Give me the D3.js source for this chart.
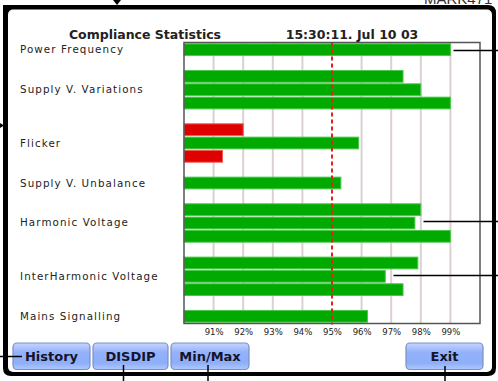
<!DOCTYPE html>
<html>
<head>
<meta charset="utf-8">
<script src="https://cdn.jsdelivr.net/npm/d3@7"></script>
<style>
  html, body { margin: 0; padding: 0; background: #fff; }
  svg { display: block; }
</style>
</head>
<body>
<svg id="chart" width="498" height="381"></svg>
<script>
// Parameter groups and their per-phase compliance percentages
const groups = ["Power Frequency", "Supply V. Variations", "Flicker", "Supply V. Unbalance",
                "Harmonic Voltage", "InterHarmonic Voltage", "Mains Signalling"];
const powerFrequency = [99.0];
const supplyVariations = [97.4, 98.0, 99.0];
const flicker = [92.0, 95.9, 91.3];
const supplyUnbalance = [95.3];
const harmonicVoltage = [98.0, 97.8, 99.0];
const interHarmonicVoltage = [97.9, 96.8, 97.4];
const mainsSignalling = [96.2];
const groupValues = [powerFrequency, supplyVariations, flicker, supplyUnbalance,
                     harmonicVoltage, interHarmonicVoltage, mainsSignalling];
const complianceLimit = 95;
const tickValues = [91, 92, 93, 94, 95, 96, 97, 98, 99];
const title = "Compliance Statistics";
const timestamp = "15:30:11. Jul 10 03";
const buttons = ["History", "DISDIP", "Min/Max", "Exit"];

const svg = d3.select("#chart");

// ---- device frame ----
svg.append("path")
  .attr("d", "M3,5 H488 Q496,5 496,13 V368 Q496,376 488,376 H11 Q3,376 3,368 Z")
  .attr("fill", "#000");
svg.append("rect").attr("x", 8).attr("y", 9.5).attr("width", 484).attr("height", 362.5)
  .attr("rx", 5).attr("fill", "#fff");

svg.append("text").attr("x", 424).attr("y", 4)
  .attr("font-family", "Liberation Sans, Arial, sans-serif").attr("font-size", 15)
  .attr("fill", "#333").text("MARK471");

// ---- slots: one row per bar, a blank row between groups ----
const rows = [];
let slot = 0;
const labelRows = [];
groupValues.forEach((vals, gi) => {
  const start = slot;
  vals.forEach((v, i) => { rows.push({ group: gi, i, value: v, slot: slot }); slot++; });
  labelRows.push({ name: groups[gi], from: start, to: slot - 1 });
  if (gi < groupValues.length - 1) slot++;
});
const nSlots = slot;

const x = d3.scaleLinear().domain([90, 100]).range([184, 480]);
const y = d3.scaleBand().domain(d3.range(nSlots)).range([42.5, 323.5])
  .paddingInner(0.12).paddingOuter(0.1);
const [y0, y1] = y.range();

const plot = svg.append("g");

// gridlines
plot.selectAll("line.grid").data(tickValues.filter(t => t !== complianceLimit)).join("line")
  .attr("class", "grid")
  .attr("x1", d => x(d)).attr("x2", d => x(d))
  .attr("y1", y0).attr("y2", y1)
  .attr("stroke", "#dcd0d0").attr("stroke-width", 2);

// bars
plot.selectAll("rect.bar").data(rows).join("rect")
  .attr("class", "bar")
  .attr("x", x(90))
  .attr("y", d => y(d.slot))
  .attr("width", d => x(d.value) - x(90))
  .attr("height", y.bandwidth())
  .attr("fill", d => d.value >= complianceLimit ? "#00aa00" : "#e00000")
  .attr("stroke", d => d.value >= complianceLimit ? "#4cc84c" : "#f05a5a")
  .attr("stroke-width", 1);

// compliance limit
plot.append("line")
  .attr("x1", x(complianceLimit)).attr("x2", x(complianceLimit))
  .attr("y1", y0).attr("y2", y1 + 1)
  .attr("stroke", "#e8201c").attr("stroke-width", 2)
  .attr("stroke-dasharray", "4,3");

// plot border
plot.append("rect")
  .attr("x", x(90)).attr("y", y0)
  .attr("width", x(100) - x(90)).attr("height", y1 - y0)
  .attr("fill", "none").attr("stroke", "#555").attr("stroke-width", 1.5);

// x axis labels
const xAxis = d3.axisBottom(x).tickValues(tickValues).tickSize(0).tickFormat(d => d + "%");
const ax = svg.append("g").attr("transform", `translate(0,${y1 + 2})`).call(xAxis);
ax.select(".domain").remove();
ax.selectAll("text")
  .attr("font-family", "DejaVu Sans, sans-serif").attr("font-size", 8.5)
  .attr("fill", "#222");

// row labels
svg.selectAll("text.rowlabel").data(labelRows).join("text")
  .attr("class", "rowlabel")
  .attr("x", 20)
  .attr("y", d => (y(d.from) + y(d.to) + y.bandwidth()) / 2 + 3.5)
  .attr("font-family", "DejaVu Sans, sans-serif").attr("font-size", 10.3)
  .attr("letter-spacing", 1.1)
  .attr("fill", "#222")
  .text(d => d.name);

// titles
svg.append("text").attr("x", 145).attr("y", 38.5).attr("text-anchor", "middle")
  .attr("font-family", "DejaVu Sans, sans-serif").attr("font-weight", "bold")
  .attr("font-size", 12.5).attr("fill", "#222").text(title);
svg.append("text").attr("x", 352).attr("y", 38.5).attr("text-anchor", "middle")
  .attr("font-family", "DejaVu Sans, sans-serif").attr("font-weight", "bold")
  .attr("font-size", 12.5).attr("fill", "#222").text(timestamp);

// ---- soft-key buttons ----
const defs = svg.append("defs");
const grad = defs.append("linearGradient").attr("id", "btn").attr("x1", 0).attr("y1", 0).attr("x2", 0).attr("y2", 1);
grad.append("stop").attr("offset", "0%").attr("stop-color", "#c4d4ff");
grad.append("stop").attr("offset", "35%").attr("stop-color", "#93b2fb");
grad.append("stop").attr("offset", "75%").attr("stop-color", "#8eaef8");
grad.append("stop").attr("offset", "100%").attr("stop-color", "#b2c8ff");

const btnBoxes = [[13, 90], [93, 168], [171, 249], [406, 483]];
const btn = svg.selectAll("g.btn").data(buttons).join("g").attr("class", "btn");
btn.append("rect")
  .attr("x", (d, i) => btnBoxes[i][0]).attr("y", 343)
  .attr("width", (d, i) => btnBoxes[i][1] - btnBoxes[i][0]).attr("height", 26.5)
  .attr("rx", 4)
  .attr("fill", "url(#btn)").attr("stroke", "#7d8fbf").attr("stroke-width", 1.2);
btn.append("text")
  .attr("x", (d, i) => (btnBoxes[i][0] + btnBoxes[i][1]) / 2).attr("y", 361)
  .attr("text-anchor", "middle")
  .attr("font-family", "DejaVu Sans, sans-serif").attr("font-weight", "bold")
  .attr("font-size", 13).attr("fill", "#14142a")
  .text(d => d);

// ---- callout leaders ----
const lines = [
  [453.5, 50.5, 498, 50.5],
  [423.5, 221.5, 498, 221.5],
  [393.5, 275.5, 498, 275.5],
  [0, 356.5, 22, 356.5],
  [123.5, 365, 123.5, 381],
  [208, 365, 208, 381],
  [445, 366, 445, 381]
];
svg.selectAll("line.callout").data(lines).join("line")
  .attr("class", "callout")
  .attr("x1", d => d[0]).attr("y1", d => d[1]).attr("x2", d => d[2]).attr("y2", d => d[3])
  .attr("stroke", "#000").attr("stroke-width", 1.5);
svg.append("path").attr("d", "M113,0 L121,0 L117,5 Z").attr("fill", "#000");
svg.append("path").attr("d", "M0,123 L4,125.5 L0,128 Z").attr("fill", "#000");
</script>
</body>
</html>
